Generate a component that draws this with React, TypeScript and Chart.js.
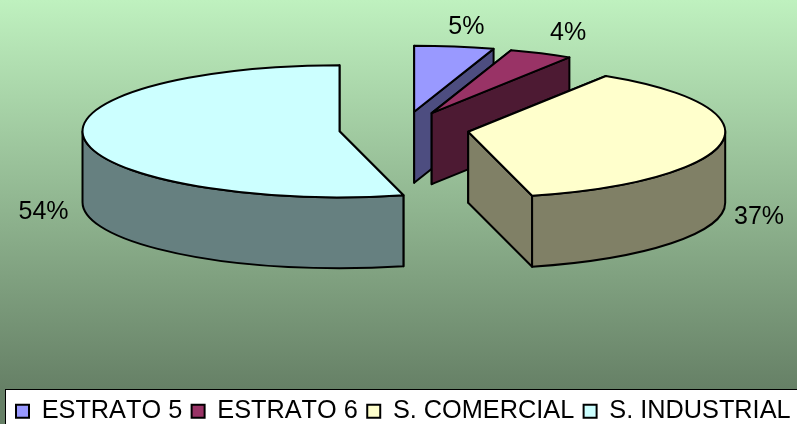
import React, { useEffect, useRef } from "react";
import Chart from "chart.js/auto";

const categories = ["ESTRATO 5", "ESTRATO 6", "S. COMERCIAL", "S. INDUSTRIAL"];
const shares = [5, 4, 37, 54];
const topColors = ["#9999FF", "#993366", "#FFFFCC", "#CCFFFF"];
const sideColors = ["#4D4D80", "#4D1A33", "#808066", "#668080"];
const labelNudges = [[12, -20], [27, -21], [37, 75], [-41, 73]];

const FONT = '"Liberation Sans", Arial, sans-serif';
const CENTER_X = 404;
const CENTER_Y = 129;
const RADIUS = 257;
const TILT = 0.257;
const DEPTH = 71;
const EXPLODE = 65;

const norm = (a: number) => {
  const t = Math.PI * 2;
  return ((a % t) + t) % t;
};

const pie3d = {
  id: "pie3d",
  beforeDraw(chart: any) {
    const { ctx, width, height } = chart;
    ctx.fontKerning = "none";
    const g = ctx.createLinearGradient(0, 0, 0, 390);
    g.addColorStop(0, "#BFF1BF");
    g.addColorStop(1, "#668066");
    ctx.save();
    ctx.fillStyle = g;
    ctx.fillRect(0, 0, width, height);
    ctx.fillStyle = "#FFFFFF";
    ctx.strokeStyle = "#000000";
    ctx.lineWidth = 1;
    ctx.fillRect(5.5, 389.5, width, height);
    ctx.strokeRect(5.5, 389.5, width, height);
    ctx.restore();
  },
  beforeDatasetDraw(chart: any, args: any) {
    const { ctx } = chart;
    const arcs = chart.getDatasetMeta(args.index).data;
    arcs.forEach((arc: any, i: number) => {
      const { x, y, startAngle: a0, endAngle: a1, outerRadius } = arc;
      const R = RADIUS;
      const mid = (a0 + a1) / 2;
      const cx = CENTER_X + EXPLODE * Math.cos(mid);
      const cy = CENTER_Y + EXPLODE * TILT * Math.sin(mid) * 1.05;
      const ry = R * TILT;
      const px = (a: number) => cx + R * Math.cos(a);
      const py = (a: number) => cy + ry * Math.sin(a);

      ctx.save();
      ctx.lineJoin = "round";
      ctx.lineWidth = 2;
      ctx.strokeStyle = "#000000";
      ctx.fillStyle = sideColors[i];

      for (const a of [a0, a1]) {
        ctx.beginPath();
        ctx.moveTo(cx, cy);
        ctx.lineTo(px(a), py(a));
        ctx.lineTo(px(a), py(a) + DEPTH);
        ctx.lineTo(cx, cy + DEPTH);
        ctx.closePath();
        ctx.fill();
        ctx.stroke();
      }

      // the part of the rim that faces the viewer
      const span = a1 - a0;
      const s = norm(a0);
      const from = s < Math.PI ? s : 0;
      const startsFront = s < Math.PI;
      const offset = startsFront ? 0 : Math.PI * 2 - s;
      const to = Math.min(Math.PI, from + span - offset);
      if (to > from && span > offset) {
        ctx.beginPath();
        ctx.ellipse(cx, cy, R, ry, 0, from, to, false);
        ctx.ellipse(cx, cy + DEPTH, R, ry, 0, to, from, true);
        ctx.closePath();
        ctx.fill();
        ctx.stroke();
      }

      // the library's arc, squeezed into the tilted plane
      ctx.save();
      ctx.translate(cx, cy);
      ctx.scale(R / outerRadius, TILT * (R / outerRadius));
      ctx.translate(-x, -y);
      arc.draw(ctx);
      ctx.restore();

      ctx.beginPath();
      ctx.moveTo(cx, cy);
      ctx.ellipse(cx, cy, R, ry, 0, a0, a1, false);
      ctx.closePath();
      ctx.stroke();
      ctx.restore();
    });
    return false;
  },
  afterDatasetsDraw(chart: any) {
    const { ctx } = chart;
    const arcs = chart.getDatasetMeta(0).data;
    ctx.save();
    ctx.font = `25px ${FONT}`;
    ctx.fillStyle = "#000000";
    ctx.textAlign = "center";
    ctx.textBaseline = "middle";
    arcs.forEach((arc: any, i: number) => {
      const mid = (arc.startAngle + arc.endAngle) / 2;
      const rr = RADIUS + EXPLODE;
      const lx = CENTER_X + rr * Math.cos(mid) + labelNudges[i][0];
      const ly = CENTER_Y + rr * TILT * Math.sin(mid) + labelNudges[i][1];
      ctx.fillText(`${shares[i]}%`, lx, ly);
    });
    ctx.restore();
  },
};

export default function App() {
  const ref = useRef<HTMLCanvasElement>(null);
  useEffect(() => {
    const chart = new Chart(ref.current!, {
      type: "pie",
      data: {
        labels: categories,
        datasets: [
          {
            data: shares,
            backgroundColor: topColors,
            borderColor: "#000000",
            borderWidth: 0,
          },
        ],
      },
      options: {
        responsive: false,
        animation: false,
        radius: RADIUS,
        layout: { padding: { left: 6.6, right: -15, bottom: -10 } },
        plugins: {
          tooltip: { enabled: false },
          legend: {
            position: "bottom",
            align: "start",
            labels: {
              font: { family: FONT, size: 25.3 },
              color: "#000000",
              boxWidth: 13,
              boxHeight: 13,
              padding: 9.4,
              generateLabels: (c: any) =>
                (Chart as any).overrides.pie.plugins.legend.labels
                  .generateLabels(c)
                  .map((l: any) => ({ ...l, lineWidth: 2, strokeStyle: "#000000" })),
            },
          },
        },
      },
      plugins: [pie3d],
    } as any);
    return () => chart.destroy();
  }, []);
  return (
    <div style={{ position: "fixed", left: 0, top: 0, width: 797, height: 424 }}>
      <canvas ref={ref} width={797} height={424} style={{ display: "block" }} />
    </div>
  );
}
